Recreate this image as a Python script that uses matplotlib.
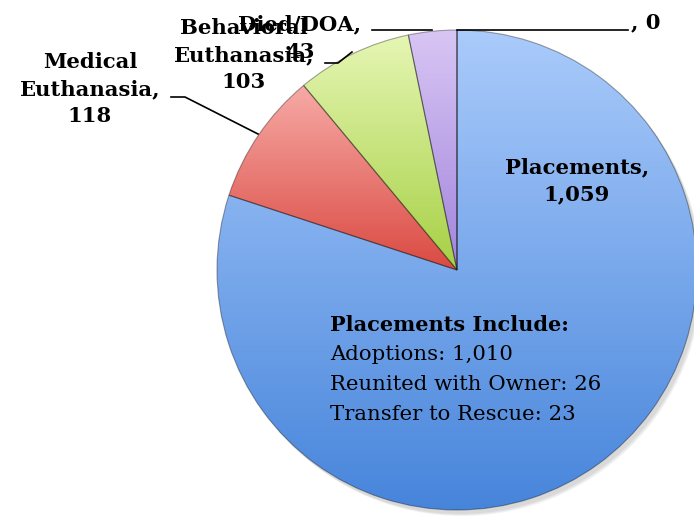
import numpy as np
import matplotlib
matplotlib.use('Agg')
import matplotlib.pyplot as plt
from matplotlib.colors import LinearSegmentedColormap

categories = ['Placements', 'Medical\nEuthanasia', 'Behavioral\nEuthanasia', 'Died/DOA', '']
values = [1059, 118, 103, 43, 0]
include_lines = ['Adoptions: 1,010', 'Reunited with Owner: 26', 'Transfer to Rescue: 23']

# light (top) -> dark (bottom) for each slice
shades = [
    ('#aacbfb', '#4785db'),
    ('#f7aaa6', '#da4a42'),
    ('#e6f6b4', '#a6d044'),
    ('#d8c6f4', '#a284dc'),
    ('#d8c6f4', '#a284dc'),
]

W, H = 694, 516
fig = plt.figure(figsize=(W / 100, H / 100), dpi=100)
ax = fig.add_axes([0, 0, 1, 1])
ax.axis('off')

cx, cy, r = 457, 246, 240

# soft shadow
for k in range(3):
    sh = plt.Circle((cx + 3 + k, cy - 4 - k), r, color='black', alpha=0.05, lw=0, zorder=0)
    ax.add_patch(sh)

wedges, _ = ax.pie(values, center=(cx, cy), radius=r, startangle=90, counterclock=False,
                   wedgeprops=dict(linewidth=0.8, edgecolor=(0, 0, 0, 0.35)),
                   frame=False)

grad = np.linspace(0, 1, 256).reshape(-1, 1)
for i, (w, (lo, hi)) in enumerate(zip(wedges, shades)):
    w.set_facecolor('none')
    w.set_zorder(2)
    if i == 0:
        y0, y1 = cy - r, cy + r
    else:
        t = np.radians(np.linspace(w.theta1, w.theta2, 50))
        ys = np.concatenate([[cy], cy + r * np.sin(t)])
        y0, y1 = ys.min(), ys.max()
    cmap = LinearSegmentedColormap.from_list('g', [lo, hi])
    im = ax.imshow(grad, cmap=cmap, extent=(cx - r, cx + r, y1, y0),
                   origin='lower', aspect='auto', zorder=1)
    im.set_clip_path(w)

ax.set_xlim(0, W)
ax.set_ylim(0, H)
ax.set_aspect('equal')

serif = ['DejaVu Serif']
bold = dict(family=serif, fontsize=15.2, fontweight='bold', ha='center', va='center',
            linespacing=1.45, zorder=5)

# data labels
ax.text(577, H - 181, f'{categories[0]},\n{values[0]:,}', **bold)
ax.text(90, H - 89, f'{categories[1]},\n{values[1]:,}', **bold)
ax.text(244, H - 55, f'{categories[2]},\n{values[2]:,}', **bold)
ax.text(300, H - 38, f'{categories[3]},\n{values[3]:,}', **bold)
ax.text(631, H - 22, f'{categories[4]}, {values[4]:,}', family=serif, fontsize=15.2,
        fontweight='bold', ha='left', va='center', zorder=5)

# leader lines
lk = dict(color='black', lw=1.2, zorder=4)
ax.plot([171, 185, 258], [H - 97, H - 97, H - 134], **lk)
ax.plot([325, 338, 352], [H - 63, H - 63, H - 52], **lk)
ax.plot([372, 432], [H - 30, H - 30], **lk)
ax.plot([457, 628], [H - 30, H - 30], **lk)

# placements breakdown
ax.text(330, H - 325, 'Placements Include:', family=serif, fontsize=15,
        fontweight='bold', ha='left', va='center', zorder=5)
for i, line in enumerate(include_lines):
    ax.text(330, H - 355 - 30 * i, line, family=serif, fontsize=15.3, ha='left',
            va='center', zorder=5)

fig.savefig('out.png', dpi=100)
